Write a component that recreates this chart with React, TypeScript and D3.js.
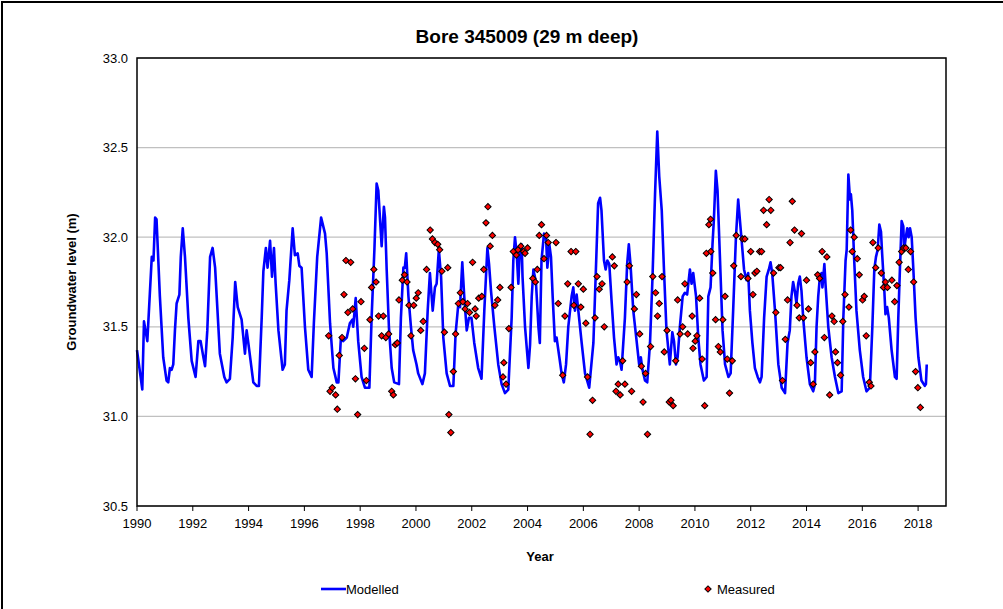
import React from 'react';
import * as d3 from 'd3';

// modelled groundwater level, [year, level m]
const modelled: [number, number][] = [
  [1990.00, 31.37], [1990.19, 31.15], [1990.25, 31.53], [1990.37, 31.42], [1990.53, 31.89], [1990.59, 31.87],
  [1990.65, 32.11], [1990.70, 32.10], [1990.82, 31.67], [1990.94, 31.33], [1991.06, 31.20], [1991.12, 31.19],
  [1991.18, 31.27], [1991.24, 31.26], [1991.30, 31.29], [1991.36, 31.48], [1991.42, 31.63], [1991.52, 31.68],
  [1991.57, 31.89], [1991.64, 32.05], [1991.72, 31.89], [1991.84, 31.55], [1991.96, 31.31], [1992.10, 31.22],
  [1992.20, 31.42], [1992.28, 31.42], [1992.38, 31.33], [1992.44, 31.28], [1992.52, 31.48], [1992.62, 31.89],
  [1992.71, 31.94], [1992.80, 31.83], [1992.97, 31.35], [1993.13, 31.22], [1993.21, 31.19], [1993.33, 31.21],
  [1993.43, 31.44], [1993.52, 31.75], [1993.61, 31.61], [1993.75, 31.54], [1993.87, 31.35], [1993.93, 31.48],
  [1993.99, 31.41], [1994.17, 31.19], [1994.29, 31.17], [1994.37, 31.17], [1994.47, 31.55], [1994.53, 31.81],
  [1994.62, 31.94], [1994.68, 31.83], [1994.77, 31.98], [1994.84, 31.78], [1994.91, 31.94], [1994.97, 31.74],
  [1995.07, 31.48], [1995.22, 31.26], [1995.30, 31.29], [1995.36, 31.59], [1995.46, 31.76], [1995.58, 32.05],
  [1995.66, 31.90], [1995.76, 31.91], [1995.82, 31.84], [1995.90, 31.83], [1996.02, 31.50], [1996.14, 31.26],
  [1996.26, 31.22], [1996.34, 31.52], [1996.46, 31.89], [1996.60, 32.11], [1996.74, 32.02], [1996.80, 31.91],
  [1996.92, 31.52], [1997.04, 31.27], [1997.16, 31.19], [1997.22, 31.19], [1997.31, 31.44], [1997.39, 31.42],
  [1997.52, 31.44], [1997.63, 31.52], [1997.72, 31.54], [1997.75, 31.50], [1997.84, 31.66], [1997.93, 31.42],
  [1998.05, 31.22], [1998.17, 31.16], [1998.33, 31.16], [1998.41, 31.55], [1998.51, 31.93], [1998.59, 32.30],
  [1998.65, 32.26], [1998.70, 32.13], [1998.77, 31.95], [1998.85, 32.17], [1998.89, 32.11], [1998.95, 31.82],
  [1999.03, 31.50], [1999.13, 31.27], [1999.22, 31.19], [1999.39, 31.18], [1999.46, 31.55], [1999.55, 31.83],
  [1999.60, 31.83], [1999.65, 31.91], [1999.73, 31.67], [1999.82, 31.50], [1999.90, 31.37], [2000.02, 31.29],
  [2000.08, 31.24], [2000.23, 31.18], [2000.32, 31.24], [2000.42, 31.59], [2000.50, 31.80], [2000.60, 31.59],
  [2000.68, 31.72], [2000.74, 31.74], [2000.82, 31.93], [2000.90, 31.78], [2000.98, 31.44], [2001.10, 31.24],
  [2001.22, 31.17], [2001.34, 31.17], [2001.42, 31.46], [2001.52, 31.63], [2001.58, 31.61], [2001.66, 31.86],
  [2001.73, 31.67], [2001.82, 31.48], [2001.90, 31.55], [2001.99, 31.55], [2002.09, 31.41], [2002.23, 31.27],
  [2002.35, 31.21], [2002.45, 31.59], [2002.56, 31.94], [2002.62, 31.85], [2002.69, 31.70], [2002.81, 31.50],
  [2002.95, 31.29], [2003.07, 31.18], [2003.19, 31.13], [2003.31, 31.15], [2003.43, 31.55], [2003.49, 31.87],
  [2003.55, 32.00], [2003.61, 31.91], [2003.67, 31.74], [2003.73, 31.95], [2003.79, 31.96], [2003.82, 31.78],
  [2003.91, 31.50], [2004.03, 31.27], [2004.09, 31.40], [2004.15, 31.67], [2004.21, 31.82], [2004.30, 31.75],
  [2004.39, 31.50], [2004.44, 31.41], [2004.50, 31.87], [2004.59, 32.02], [2004.66, 32.01], [2004.71, 31.83],
  [2004.78, 31.96], [2004.84, 31.89], [2004.90, 31.67], [2004.98, 31.42], [2005.04, 31.44], [2005.14, 31.33],
  [2005.22, 31.24], [2005.30, 31.19], [2005.38, 31.29], [2005.46, 31.50], [2005.58, 31.67], [2005.64, 31.72],
  [2005.70, 31.59], [2005.76, 31.68], [2005.82, 31.59], [2005.94, 31.41], [2006.06, 31.24], [2006.21, 31.16],
  [2006.36, 31.41], [2006.45, 31.82], [2006.53, 32.19], [2006.60, 32.22], [2006.65, 32.15], [2006.74, 31.87],
  [2006.80, 31.82], [2006.86, 31.87], [2006.93, 31.85], [2007.01, 31.65], [2007.10, 31.44], [2007.19, 31.29],
  [2007.25, 31.33], [2007.31, 31.31], [2007.37, 31.26], [2007.49, 31.55], [2007.57, 31.85], [2007.63, 31.96],
  [2007.69, 31.85], [2007.79, 31.59], [2007.91, 31.42], [2008.00, 31.29], [2008.06, 31.33], [2008.12, 31.26],
  [2008.21, 31.20], [2008.29, 31.19], [2008.39, 31.41], [2008.48, 31.78], [2008.57, 32.24], [2008.65, 32.59],
  [2008.72, 32.34], [2008.81, 32.15], [2008.89, 31.82], [2008.98, 31.48], [2009.10, 31.29], [2009.19, 31.47],
  [2009.25, 31.42], [2009.32, 31.29], [2009.38, 31.33], [2009.46, 31.50], [2009.56, 31.67], [2009.64, 31.69],
  [2009.72, 31.68], [2009.82, 31.82], [2009.88, 31.74], [2009.94, 31.80], [2010.04, 31.67], [2010.12, 31.44],
  [2010.20, 31.29], [2010.32, 31.20], [2010.42, 31.22], [2010.48, 31.67], [2010.56, 31.72], [2010.63, 31.96],
  [2010.68, 32.10], [2010.75, 32.37], [2010.81, 32.26], [2010.90, 31.87], [2010.99, 31.48], [2011.08, 31.29],
  [2011.20, 31.22], [2011.28, 31.24], [2011.37, 31.59], [2011.47, 32.00], [2011.55, 32.21], [2011.61, 32.10],
  [2011.67, 31.99], [2011.76, 31.82], [2011.85, 31.76], [2011.91, 31.80], [2011.97, 31.59], [2012.06, 31.41],
  [2012.15, 31.27], [2012.25, 31.22], [2012.33, 31.19], [2012.39, 31.22], [2012.48, 31.55], [2012.57, 31.78],
  [2012.65, 31.82], [2012.71, 31.86], [2012.77, 31.80], [2012.87, 31.59], [2012.99, 31.29], [2013.11, 31.16],
  [2013.23, 31.13], [2013.32, 31.41], [2013.40, 31.48], [2013.46, 31.67], [2013.52, 31.75], [2013.58, 31.70],
  [2013.64, 31.63], [2013.70, 31.74], [2013.76, 31.78], [2013.82, 31.70], [2013.88, 31.55], [2014.00, 31.33],
  [2014.12, 31.18], [2014.24, 31.14], [2014.30, 31.18], [2014.36, 31.50], [2014.42, 31.67], [2014.48, 31.78],
  [2014.54, 31.80], [2014.57, 31.72], [2014.64, 31.85], [2014.68, 31.74], [2014.78, 31.50], [2014.90, 31.33],
  [2015.02, 31.22], [2015.14, 31.13], [2015.26, 31.14], [2015.32, 31.55], [2015.40, 31.87], [2015.44, 31.93],
  [2015.50, 32.35], [2015.56, 32.21], [2015.59, 32.24], [2015.64, 32.15], [2015.71, 31.87], [2015.79, 31.59],
  [2015.91, 31.37], [2016.03, 31.22], [2016.15, 31.14], [2016.27, 31.16], [2016.36, 31.50], [2016.43, 31.82],
  [2016.49, 31.89], [2016.55, 31.93], [2016.61, 32.07], [2016.67, 32.03], [2016.71, 31.91], [2016.79, 31.70],
  [2016.83, 31.57], [2016.89, 31.61], [2016.95, 31.55], [2017.05, 31.37], [2017.17, 31.22], [2017.23, 31.21],
  [2017.29, 31.55], [2017.35, 31.83], [2017.41, 32.09], [2017.47, 32.06], [2017.50, 31.93], [2017.56, 32.00],
  [2017.61, 32.05], [2017.66, 32.00], [2017.71, 32.05], [2017.77, 32.00], [2017.83, 31.82], [2017.91, 31.55],
  [2018.01, 31.33], [2018.12, 31.20], [2018.24, 31.17], [2018.28, 31.18], [2018.31, 31.29],
];

// measured groundwater level, [year, level m]
const measured: [number, number][] = [
  [1996.87, 31.45], [1996.92, 31.14], [1997.00, 31.16], [1997.12, 31.12], [1997.18, 31.04], [1997.25, 31.34],
  [1997.35, 31.44], [1997.42, 31.68], [1997.49, 31.87], [1997.56, 31.58], [1997.66, 31.86], [1997.73, 31.60],
  [1997.83, 31.21], [1997.91, 31.01], [1998.03, 31.64], [1998.15, 31.38], [1998.22, 31.20], [1998.35, 31.54],
  [1998.41, 31.72], [1998.49, 31.82], [1998.57, 31.75], [1998.66, 31.56], [1998.77, 31.45], [1998.83, 31.56],
  [1998.92, 31.44], [1999.02, 31.46], [1999.13, 31.14], [1999.19, 31.12], [1999.26, 31.40], [1999.33, 31.41],
  [1999.39, 31.65], [1999.51, 31.76], [1999.59, 31.79], [1999.68, 31.75], [1999.75, 31.62], [1999.82, 31.45],
  [1999.92, 31.62], [2000.01, 31.66], [2000.08, 31.69], [2000.17, 31.48], [2000.26, 31.53], [2000.38, 31.82],
  [2000.51, 32.04], [2000.59, 31.99], [2000.68, 31.97], [2000.78, 31.96], [2000.85, 31.93], [2000.93, 31.81],
  [2001.02, 31.47], [2001.14, 31.83], [2001.18, 31.01], [2001.25, 30.91], [2001.34, 31.25], [2001.42, 31.46],
  [2001.52, 31.63], [2001.59, 31.69], [2001.68, 31.64], [2001.76, 31.60], [2001.85, 31.63], [2001.92, 31.58],
  [2002.03, 31.86], [2002.12, 31.60], [2002.16, 31.56], [2002.25, 31.66], [2002.36, 31.67], [2002.43, 31.82],
  [2002.51, 32.08], [2002.58, 32.17], [2002.66, 31.95], [2002.74, 32.01], [2002.83, 31.62], [2002.93, 31.65],
  [2003.01, 31.72], [2003.12, 31.22], [2003.15, 31.30], [2003.23, 31.18], [2003.33, 31.49], [2003.41, 31.72],
  [2003.49, 31.92], [2003.60, 31.90], [2003.66, 31.93], [2003.76, 31.95], [2003.86, 31.92], [2003.91, 31.91],
  [2004.00, 31.94], [2004.19, 31.77], [2004.28, 31.75], [2004.35, 31.82], [2004.42, 32.01], [2004.50, 32.07],
  [2004.59, 31.88], [2004.68, 32.01], [2004.74, 31.97], [2005.02, 31.97], [2005.10, 31.63], [2005.26, 31.23],
  [2005.34, 31.56], [2005.44, 31.74], [2005.56, 31.92], [2005.66, 31.62], [2005.73, 31.92], [2005.82, 31.74],
  [2005.91, 31.61], [2006.00, 31.71], [2006.09, 31.52], [2006.15, 31.22], [2006.24, 30.90], [2006.33, 31.09],
  [2006.42, 31.55], [2006.49, 31.78], [2006.57, 31.71], [2006.67, 31.74], [2006.75, 31.50], [2007.04, 31.89],
  [2007.11, 31.84], [2007.17, 31.14], [2007.25, 31.18], [2007.32, 31.12], [2007.41, 31.31], [2007.49, 31.18],
  [2007.57, 31.75], [2007.65, 31.84], [2007.73, 31.14], [2007.83, 31.60], [2007.90, 31.68], [2008.02, 31.46],
  [2008.08, 31.28], [2008.14, 31.08], [2008.23, 31.24], [2008.30, 30.90], [2008.41, 31.39], [2008.49, 31.78],
  [2008.59, 31.69], [2008.66, 31.56], [2008.72, 31.63], [2008.82, 31.78], [2008.90, 31.36], [2009.00, 31.48],
  [2009.08, 31.08], [2009.14, 31.09], [2009.22, 31.06], [2009.31, 31.31], [2009.38, 31.65], [2009.47, 31.46],
  [2009.56, 31.50], [2009.64, 31.74], [2009.74, 31.46], [2009.90, 31.56], [2009.93, 31.38], [2010.01, 31.42],
  [2010.07, 31.45], [2010.17, 31.66], [2010.26, 31.32], [2010.35, 31.06], [2010.41, 31.91], [2010.50, 32.07],
  [2010.56, 32.10], [2010.57, 31.92], [2010.64, 31.80], [2010.74, 31.54], [2010.84, 31.39], [2010.91, 31.36],
  [2011.00, 31.54], [2011.08, 31.67], [2011.16, 31.32], [2011.24, 31.13], [2011.34, 31.31], [2011.39, 31.84],
  [2011.48, 32.01], [2011.65, 31.78], [2011.71, 31.99], [2011.79, 31.99], [2011.90, 31.77], [2012.00, 31.92],
  [2012.08, 31.68], [2012.15, 31.80], [2012.22, 31.81], [2012.32, 31.92], [2012.39, 31.92], [2012.46, 32.15],
  [2012.57, 32.07], [2012.66, 32.21], [2012.72, 32.15], [2012.82, 31.80], [2012.90, 31.58], [2013.01, 31.83],
  [2013.07, 31.83], [2013.14, 31.20], [2013.24, 31.43], [2013.32, 31.65], [2013.41, 31.97], [2013.49, 32.20],
  [2013.57, 32.04], [2013.66, 31.62], [2013.74, 31.55], [2013.82, 32.02], [2013.89, 31.55], [2014.00, 31.76],
  [2014.07, 31.60], [2014.15, 31.30], [2014.24, 31.18], [2014.30, 31.36], [2014.40, 31.79], [2014.47, 31.77],
  [2014.56, 31.92], [2014.64, 31.44], [2014.73, 31.89], [2014.83, 31.12], [2014.91, 31.56], [2014.99, 31.53],
  [2015.04, 31.36], [2015.11, 31.30], [2015.22, 31.23], [2015.30, 31.53], [2015.38, 31.68], [2015.52, 31.61],
  [2015.58, 32.04], [2015.64, 31.92], [2015.71, 32.00], [2015.82, 31.88], [2015.89, 31.79], [2016.01, 31.65],
  [2016.07, 31.67], [2016.14, 31.45], [2016.25, 31.19], [2016.31, 31.17], [2016.38, 31.97], [2016.48, 31.83],
  [2016.57, 31.94], [2016.68, 31.80], [2016.76, 31.72], [2016.83, 31.75], [2016.90, 31.72], [2017.06, 31.76],
  [2017.16, 31.64], [2017.24, 31.73], [2017.32, 31.86], [2017.41, 31.92], [2017.48, 31.94], [2017.56, 31.94],
  [2017.65, 31.82], [2017.73, 31.92], [2017.84, 31.75], [2017.91, 31.25], [2017.99, 31.16], [2018.08, 31.05],
];

const xTicks = [1990, 1992, 1994, 1996, 1998, 2000, 2002, 2004, 2006, 2008, 2010, 2012, 2014, 2016, 2018];
const yTicks = [30.5, 31.0, 31.5, 32.0, 32.5, 33.0];

const W = 1003;
const H = 609;
const font = "'Liberation Sans', Arial, sans-serif";

export default function App() {
  const left = 137, right = 946, top = 58, bottom = 506;

  const x = d3.scaleLinear().domain([1990, 2019]).range([left, right]);
  const y = d3.scaleLinear().domain([30.5, 33]).range([bottom, top]);

  const line = d3.line<[number, number]>()
    .x((d) => x(d[0]))
    .y((d) => y(d[1]));

  // small red diamond with black rim
  const diamond = d3.symbol().type(d3.symbolSquare).size(20)();

  return (
    <svg width={W} height={H} style={{ position: 'absolute', left: 0, top: 0 }} fontFamily={font}>
      <rect x={0} y={0} width={W} height={H} fill="#fff" />
      {/* outer chart frame, runs off the right and bottom of the picture */}
      <rect x={2} y={2} width={1020} height={700} fill="none" stroke="#000" strokeWidth={2} />

      <text x={527} y={43} textAnchor="middle" fontSize={19} fontWeight="bold">Bore 345009 (29 m deep)</text>

      {/* grid */}
      {yTicks.map((t) => (
        <line key={t} x1={left} x2={right} y1={y(t)} y2={y(t)} stroke="#c0c0c0" strokeWidth={1.2} />
      ))}

      {/* modelled */}
      <path d={line(modelled) || ''} fill="none" stroke="#0000ff" strokeWidth={2.6} strokeLinejoin="round" />

      {/* measured */}
      {measured.map((d, i) => (
        <path key={i} d={diamond} transform={`translate(${x(d[0])},${y(d[1])}) rotate(45)`}
          fill="#ff0000" stroke="#000" strokeWidth={1} />
      ))}

      {/* plot frame */}
      <rect x={left} y={top} width={right - left} height={bottom - top} fill="none" stroke="#000" strokeWidth={1.5} />

      {/* x axis */}
      {xTicks.map((t) => (
        <g key={t}>
          <line x1={x(t)} x2={x(t)} y1={bottom} y2={bottom + 5} stroke="#000" strokeWidth={1} />
          <text x={x(t)} y={528} textAnchor="middle" fontSize={13}>{t}</text>
        </g>
      ))}
      {yTicks.map((t) => (
        <text key={t} x={128} y={y(t)} dy="0.35em" textAnchor="end" fontSize={13}>{t.toFixed(1)}</text>
      ))}

      <text x={540} y={561} textAnchor="middle" fontSize={13} fontWeight="bold">Year</text>
      <text transform={`translate(76,${(top + bottom) / 2}) rotate(-90)`} textAnchor="middle" fontSize={13} fontWeight="bold">
        Groundwater level (m)
      </text>

      {/* legend */}
      <line x1={321} x2={346} y1={589} y2={589} stroke="#0000ff" strokeWidth={2.6} />
      <text x={346} y={589} dy="0.35em" fontSize={13}>Modelled</text>
      <path d={diamond} transform="translate(708,589) rotate(45)" fill="#ff0000" stroke="#000" strokeWidth={1} />
      <text x={717} y={589} dy="0.35em" fontSize={13}>Measured</text>
    </svg>
  );
}
